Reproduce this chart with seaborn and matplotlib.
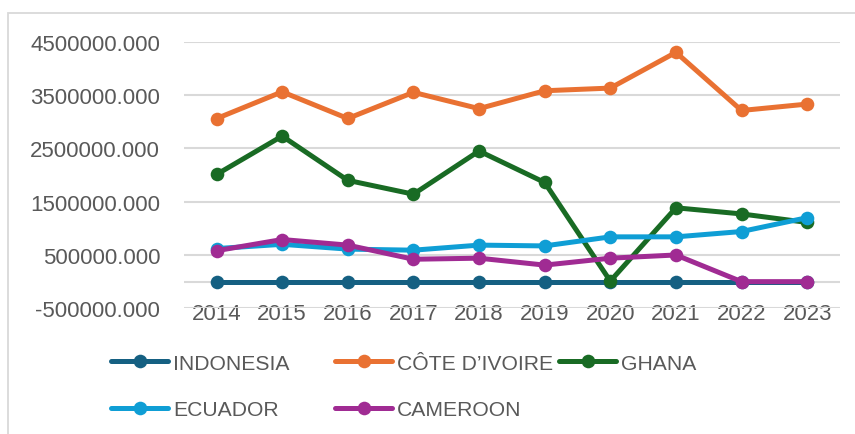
import matplotlib
matplotlib.use("Agg")
import matplotlib.pyplot as plt
import seaborn as sns
import pandas as pd
from matplotlib.patches import Rectangle

# ---------------- data ----------------
years = ["2014", "2015", "2016", "2017", "2018", "2019", "2020", "2021", "2022", "2023"]
countries = ["INDONESIA", "CÔTE D’IVOIRE", "GHANA", "ECUADOR", "CAMEROON"]
indonesia = [0, 0, 0, 0, 0, 0, 0, 0, 0, 0]
cote_divoire = [3058000, 3560000, 3060000, 3550000, 3245000, 3580000, 3630000, 4300000, 3210000, 3330000]
ghana = [2010000, 2730000, 1900000, 1640000, 2450000, 1860000, 10000, 1385000, 1270000, 1110000]
ecuador = [620000, 700000, 610000, 590000, 685000, 670000, 840000, 840000, 940000, 1200000]
cameroon = [580000, 790000, 685000, 420000, 440000, 310000, 440000, 500000, 0, 0]
y_ticks = [-500000, 500000, 1500000, 2500000, 3500000, 4500000]
colors = ["#156082", "#E97132", "#196B24", "#0F9ED5", "#A02B93"]

series = [indonesia, cote_divoire, ghana, ecuador, cameroon]
rows = []
for name, vals in zip(countries, series):
    for yr, v in zip(years, vals):
        rows.append({"Year": yr, "Value": v, "Country": name})
df = pd.DataFrame(rows)

# ---------------- figure ----------------
plt.rcParams["font.family"] = ["Liberation Sans", "DejaVu Sans"]
W, H = 855, 435
fig = plt.figure(figsize=(W / 100, H / 100), dpi=100)
fig.patch.set_facecolor("white")

# chart border
fig.add_artist(Rectangle((8 / W, -0.1), 1.5, (H - 14) / H + 0.1,
                         transform=fig.transFigure, fill=False,
                         edgecolor="#D9D9D9", linewidth=1.3))

left, right, top, bottom = 183.7, 840, 42.7, 309.3
ax = fig.add_axes([left / W, 1 - bottom / H, (right - left) / W, (bottom - top) / H])

sns.lineplot(data=df, x="Year", y="Value", hue="Country", hue_order=countries,
             palette=colors, marker="o", markersize=9.8, markeredgewidth=0,
             linewidth=3.6, legend=False, ax=ax, sort=False)
lines = list(ax.lines)
for ln in lines:
    ln.set_solid_capstyle("round")
    ln.set_solid_joinstyle("round")

ax.axhline(0, color="#D9D9D9", linewidth=1.5, zorder=1)

ax.set_xlim(-0.5, len(years) - 0.5)
ax.set_ylim(y_ticks[0], y_ticks[-1])
ax.set_yticks(y_ticks)
ax.set_yticklabels([f"{v:.3f}" for v in y_ticks])
ax.yaxis.grid(True, color="#D9D9D9", linewidth=1.5)
ax.xaxis.grid(False)
ax.set_axisbelow(True)
for s in ax.spines.values():
    s.set_visible(False)
ax.set_xlabel("")
ax.set_ylabel("")
ax.tick_params(axis="y", length=0, pad=17, labelsize=16, labelcolor="#595959")
ax.tick_params(axis="x", length=0, pad=-3.8, labelsize=16, labelcolor="#595959")
ax.set_facecolor("none")

# legend entries (Excel-style uniform columns)
leg_pos = [(111, 364), (335, 364), (559, 364), (111, 411), (335, 411)]
for ln, name, (x, y) in zip(lines, countries, leg_pos):
    fig.legend([ln], [name], loc="center left", bbox_to_anchor=(x / W, 1 - y / H),
               frameon=False, borderpad=0, borderaxespad=0, handlelength=2.7,
               handletextpad=0.25, fontsize=15.2, labelcolor="#595959")

fig.savefig("out.png", dpi=100)
